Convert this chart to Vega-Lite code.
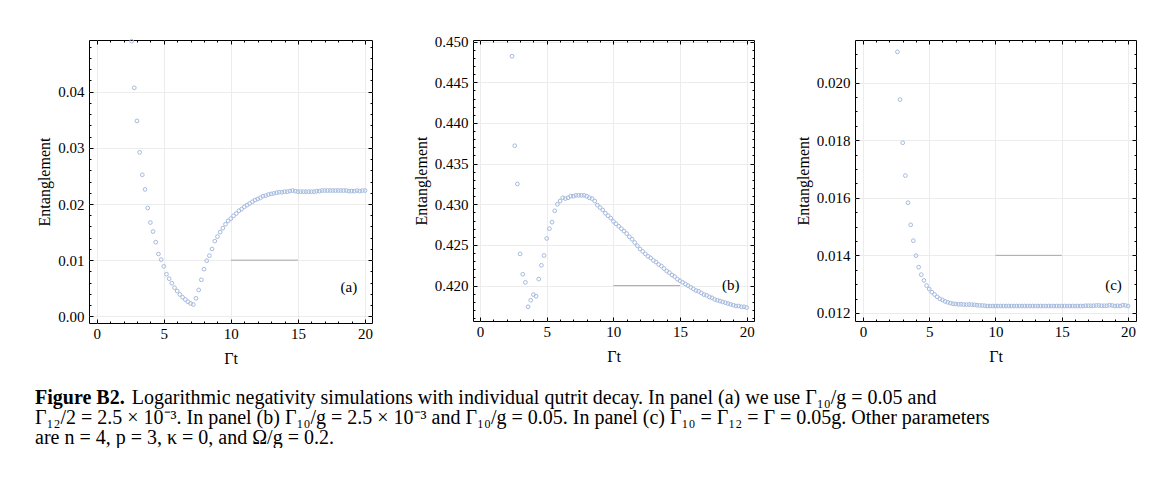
{
  "$schema": "https://vega.github.io/schema/vega-lite/v6.json",
  "padding": {"left": 35, "top": 34, "right": 0, "bottom": 0},
  "background": "white",
  "config": {
    "font": "Liberation Serif",
    "view": {"stroke": "black", "strokeWidth": 1},
    "axis": {
      "labelFont": "Liberation Serif", "labelFontSize": 15, "labelColor": "black",
      "titleFont": "Liberation Serif", "titleFontSize": 16, "titleFontWeight": "normal", "titleColor": "black",
      "tickColor": "black", "tickWidth": 1, "domain": false, "gridColor": "#ececec", "gridWidth": 1,
      "labelFlush": false, "labelOverlap": false
    }
  },
  "datasets": {
    "a": [
      {"t":2.6,"e":0.0490},{"t":2.8,"e":0.0407},{"t":3.0,"e":0.0348},{"t":3.2,"e":0.0292},{"t":3.4,"e":0.0252},{"t":3.6,"e":0.0226},{"t":3.8,"e":0.0193},{"t":4.0,"e":0.0167},{"t":4.2,"e":0.0151},{"t":4.4,"e":0.0132},
      {"t":4.6,"e":0.0111},{"t":4.8,"e":0.0101},{"t":5.0,"e":0.0089},{"t":5.2,"e":0.0075},{"t":5.4,"e":0.0067},{"t":5.6,"e":0.0059},{"t":5.8,"e":0.0051},{"t":6.0,"e":0.0045},{"t":6.2,"e":0.0039},{"t":6.4,"e":0.0034},
      {"t":6.6,"e":0.0030},{"t":6.8,"e":0.0026},{"t":7.0,"e":0.0023},{"t":7.2,"e":0.0021},{"t":7.4,"e":0.0032},{"t":7.6,"e":0.0047},{"t":7.8,"e":0.0065},{"t":8.0,"e":0.0084},{"t":8.2,"e":0.0099},{"t":8.4,"e":0.0108},
      {"t":8.6,"e":0.0120},{"t":8.8,"e":0.0134},{"t":9.0,"e":0.0142},{"t":9.2,"e":0.0150},{"t":9.4,"e":0.0157},{"t":9.6,"e":0.0164},{"t":9.8,"e":0.0170},{"t":10.0,"e":0.0174},{"t":10.2,"e":0.0179},{"t":10.4,"e":0.0183},
      {"t":10.6,"e":0.0188},{"t":10.8,"e":0.0191},{"t":11.0,"e":0.0195},{"t":11.2,"e":0.0198},{"t":11.4,"e":0.0201},{"t":11.6,"e":0.0204},{"t":11.8,"e":0.0207},{"t":12.0,"e":0.0209},{"t":12.2,"e":0.0211},{"t":12.4,"e":0.0214},
      {"t":12.6,"e":0.0215},{"t":12.8,"e":0.0217},{"t":13.0,"e":0.0218},{"t":13.2,"e":0.0219},{"t":13.4,"e":0.0220},{"t":13.6,"e":0.0221},{"t":13.8,"e":0.0221},{"t":14.0,"e":0.0222},{"t":14.2,"e":0.0222},{"t":14.4,"e":0.0223},
      {"t":14.6,"e":0.0224},{"t":14.8,"e":0.0223},{"t":15.0,"e":0.0222},{"t":15.2,"e":0.0222},{"t":15.4,"e":0.0222},{"t":15.6,"e":0.0222},{"t":15.8,"e":0.0222},{"t":16.0,"e":0.0222},{"t":16.2,"e":0.0222},{"t":16.4,"e":0.0223},
      {"t":16.6,"e":0.0223},{"t":16.8,"e":0.0224},{"t":17.0,"e":0.0224},{"t":17.2,"e":0.0224},{"t":17.4,"e":0.0224},{"t":17.6,"e":0.0224},{"t":17.8,"e":0.0224},{"t":18.0,"e":0.0224},{"t":18.2,"e":0.0224},{"t":18.4,"e":0.0224},
      {"t":18.6,"e":0.0224},{"t":18.8,"e":0.0223},{"t":19.0,"e":0.0223},{"t":19.2,"e":0.0223},{"t":19.4,"e":0.0224},{"t":19.6,"e":0.0223},{"t":19.8,"e":0.0224},{"t":20.0,"e":0.0224}
    ],
    "b": [
      {"t":2.4,"e":0.4482},{"t":2.6,"e":0.4372},{"t":2.8,"e":0.4325},{"t":3.0,"e":0.4239},{"t":3.2,"e":0.4214},{"t":3.4,"e":0.4204},{"t":3.6,"e":0.4174},{"t":3.8,"e":0.4182},{"t":4.0,"e":0.4189},{"t":4.2,"e":0.4187},
      {"t":4.4,"e":0.4208},{"t":4.6,"e":0.4225},{"t":4.8,"e":0.4237},{"t":5.0,"e":0.4258},{"t":5.2,"e":0.4270},{"t":5.4,"e":0.4278},{"t":5.6,"e":0.4292},{"t":5.8,"e":0.4300},{"t":6.0,"e":0.4304},{"t":6.2,"e":0.4308},
      {"t":6.4,"e":0.4307},{"t":6.6,"e":0.4308},{"t":6.8,"e":0.4310},{"t":7.0,"e":0.4310},{"t":7.2,"e":0.4311},{"t":7.4,"e":0.4311},{"t":7.6,"e":0.4311},{"t":7.8,"e":0.4311},{"t":8.0,"e":0.4310},{"t":8.2,"e":0.4308},
      {"t":8.4,"e":0.4307},{"t":8.6,"e":0.4304},{"t":8.8,"e":0.4299},{"t":9.0,"e":0.4296},{"t":9.2,"e":0.4293},{"t":9.4,"e":0.4289},{"t":9.6,"e":0.4286},{"t":9.8,"e":0.4283},{"t":10.0,"e":0.4279},{"t":10.2,"e":0.4276},
      {"t":10.4,"e":0.4273},{"t":10.6,"e":0.4270},{"t":10.8,"e":0.4267},{"t":11.0,"e":0.4264},{"t":11.2,"e":0.4260},{"t":11.4,"e":0.4257},{"t":11.6,"e":0.4253},{"t":11.8,"e":0.4249},{"t":12.0,"e":0.4245},{"t":12.2,"e":0.4242},
      {"t":12.4,"e":0.4239},{"t":12.6,"e":0.4236},{"t":12.8,"e":0.4234},{"t":13.0,"e":0.4231},{"t":13.2,"e":0.4229},{"t":13.4,"e":0.4226},{"t":13.6,"e":0.4224},{"t":13.8,"e":0.4221},{"t":14.0,"e":0.4218},{"t":14.2,"e":0.4216},
      {"t":14.4,"e":0.4213},{"t":14.6,"e":0.4211},{"t":14.8,"e":0.4208},{"t":15.0,"e":0.4206},{"t":15.2,"e":0.4204},{"t":15.4,"e":0.4202},{"t":15.6,"e":0.4200},{"t":15.8,"e":0.4198},{"t":16.0,"e":0.4196},{"t":16.2,"e":0.4194},
      {"t":16.4,"e":0.4193},{"t":16.6,"e":0.4191},{"t":16.8,"e":0.4189},{"t":17.0,"e":0.4188},{"t":17.2,"e":0.4186},{"t":17.4,"e":0.4185},{"t":17.6,"e":0.4183},{"t":17.8,"e":0.4182},{"t":18.0,"e":0.4181},{"t":18.2,"e":0.4180},
      {"t":18.4,"e":0.4179},{"t":18.6,"e":0.4178},{"t":18.8,"e":0.4177},{"t":19.0,"e":0.4176},{"t":19.2,"e":0.4175},{"t":19.4,"e":0.4175},{"t":19.6,"e":0.4174},{"t":19.8,"e":0.4174},{"t":20.0,"e":0.4173}
    ],
    "c": [
      {"t":2.6,"e":0.02107},{"t":2.8,"e":0.01941},{"t":3.0,"e":0.01791},{"t":3.2,"e":0.01677},{"t":3.4,"e":0.01583},{"t":3.6,"e":0.01506},{"t":3.8,"e":0.01451},{"t":4.0,"e":0.01399},{"t":4.2,"e":0.01359},{"t":4.4,"e":0.01333},
      {"t":4.6,"e":0.01313},{"t":4.8,"e":0.01295},{"t":5.0,"e":0.01283},{"t":5.2,"e":0.01272},{"t":5.4,"e":0.01264},{"t":5.6,"e":0.01256},{"t":5.8,"e":0.01249},{"t":6.0,"e":0.01245},{"t":6.2,"e":0.01240},{"t":6.4,"e":0.01237},
      {"t":6.6,"e":0.01234},{"t":6.8,"e":0.01232},{"t":7.0,"e":0.01231},{"t":7.2,"e":0.01230},{"t":7.4,"e":0.01230},{"t":7.6,"e":0.01229},{"t":7.8,"e":0.01229},{"t":8.0,"e":0.01229},{"t":8.2,"e":0.01229},{"t":8.4,"e":0.01228},
      {"t":8.6,"e":0.01227},{"t":8.8,"e":0.01226},{"t":9.0,"e":0.01226},{"t":9.2,"e":0.01225},{"t":9.4,"e":0.01224},{"t":9.6,"e":0.01224},{"t":9.8,"e":0.01224},{"t":10.0,"e":0.01224},{"t":10.2,"e":0.01224},{"t":10.4,"e":0.01224},
      {"t":10.6,"e":0.01224},{"t":10.8,"e":0.01224},{"t":11.0,"e":0.01224},{"t":11.2,"e":0.01224},{"t":11.4,"e":0.01224},{"t":11.6,"e":0.01224},{"t":11.8,"e":0.01224},{"t":12.0,"e":0.01224},{"t":12.2,"e":0.01224},{"t":12.4,"e":0.01224},
      {"t":12.6,"e":0.01224},{"t":12.8,"e":0.01224},{"t":13.0,"e":0.01224},{"t":13.2,"e":0.01224},{"t":13.4,"e":0.01224},{"t":13.6,"e":0.01224},{"t":13.8,"e":0.01224},{"t":14.0,"e":0.01224},{"t":14.2,"e":0.01224},{"t":14.4,"e":0.01224},
      {"t":14.6,"e":0.01224},{"t":14.8,"e":0.01224},{"t":15.0,"e":0.01224},{"t":15.2,"e":0.01224},{"t":15.4,"e":0.01224},{"t":15.6,"e":0.01224},{"t":15.8,"e":0.01224},{"t":16.0,"e":0.01224},{"t":16.2,"e":0.01224},{"t":16.4,"e":0.01224},
      {"t":16.6,"e":0.01224},{"t":16.8,"e":0.01225},{"t":17.0,"e":0.01225},{"t":17.2,"e":0.01225},{"t":17.4,"e":0.01225},{"t":17.6,"e":0.01226},{"t":17.8,"e":0.01226},{"t":18.0,"e":0.01225},{"t":18.2,"e":0.01225},{"t":18.4,"e":0.01225},
      {"t":18.6,"e":0.01227},{"t":18.8,"e":0.01226},{"t":19.0,"e":0.01224},{"t":19.2,"e":0.01225},{"t":19.4,"e":0.01224},{"t":19.6,"e":0.01227},{"t":19.8,"e":0.01226},{"t":20.0,"e":0.01224}
    ],
    "caption": [
      {"line": 0, "part": "bold", "text": "Figure B2."},
      {"line": 0, "part": "first", "text": "Logarithmic negativity simulations with individual qutrit decay. In panel (a) we use Γ₁₀/g = 0.05 and"},
      {"line": 1, "part": "rest", "text": "Γ₁₂/2 = 2.5 × 10⁻³. In panel (b) Γ₁₀/g = 2.5 × 10⁻³ and Γ₁₀/g = 0.05. In panel (c) Γ₁₀ = Γ₁₂ = Γ = 0.05g. Other parameters"},
      {"line": 2, "part": "rest", "text": "are n = 4, p = 3, κ = 0, and Ω/g = 0.2."}
    ]
  },
  "bounds": "full",
  "spacing": 21,
  "vconcat": [
    {
      "bounds": "flush",
      "spacing": 101,
      "hconcat": [
        {
          "width": 283, "height": 283,
          "resolve": {"axis": {"x": "independent", "y": "independent"}},
          "layer": [
            {
              "data": {"name": "a"},
              "mark": {"type": "point", "shape": "circle", "filled": false, "size": 14, "strokeWidth": 1, "color": "#a5badf", "opacity": 1},
              "encoding": {
                "x": {"field": "t", "type": "quantitative", "scale": {"domain": [-0.574, 20.52], "nice": false, "zero": false},
                  "axis": {"orient": "bottom", "values": [0,1,2,3,4,5,6,7,8,9,10,11,12,13,14,15,16,17,18,19,20],
                    "labelExpr": "datum.value % 5 === 0 ? datum.label : ''",
                    "tickSize": {"condition": {"test": "datum.value % 5 === 0", "value": -4}, "value": -2},
                    "grid": true, "gridOpacity": {"condition": {"test": "datum.value % 5 === 0", "value": 1}, "value": 0},
                    "labelPadding": 7, "title": "Γt", "titlePadding": 7}},
                "y": {"field": "e", "type": "quantitative", "scale": {"domain": [-0.00119, 0.04921], "nice": false, "zero": false},
                  "axis": {"orient": "left", "format": ".2f",
                    "values": [0,0.002,0.004,0.006,0.008,0.01,0.012,0.014,0.016,0.018,0.02,0.022,0.024,0.026,0.028,0.03,0.032,0.034,0.036,0.038,0.04,0.042,0.044,0.046,0.048],
                    "labelExpr": "abs(datum.value*100 - round(datum.value*100)) < 1e-6 ? datum.label : ''",
                    "tickSize": {"condition": {"test": "abs(datum.value*100 - round(datum.value*100)) < 1e-6", "value": -4}, "value": -2},
                    "grid": true, "gridOpacity": {"condition": {"test": "abs(datum.value*100 - round(datum.value*100)) < 1e-6", "value": 1}, "value": 0},
                    "labelPadding": 9, "title": "Entanglement", "titlePadding": 5}}
              }
            },
            {
              "data": {"values": [{"t": 10, "t2": 15, "e": 0.01}]},
              "mark": {"type": "rule", "color": "#a8a8a8", "strokeWidth": 1},
              "encoding": {
                "x": {"field": "t", "type": "quantitative",
                  "axis": {"orient": "top", "values": [0,1,2,3,4,5,6,7,8,9,10,11,12,13,14,15,16,17,18,19,20], "labels": false, "grid": false, "title": null,
                    "tickSize": {"condition": {"test": "datum.value % 5 === 0", "value": -4}, "value": -2}}},
                "x2": {"field": "t2"},
                "y": {"field": "e", "type": "quantitative",
                  "axis": {"orient": "right", "labels": false, "grid": false, "title": null,
                    "values": [0,0.002,0.004,0.006,0.008,0.01,0.012,0.014,0.016,0.018,0.02,0.022,0.024,0.026,0.028,0.03,0.032,0.034,0.036,0.038,0.04,0.042,0.044,0.046,0.048],
                    "tickSize": {"condition": {"test": "abs(datum.value*100 - round(datum.value*100)) < 1e-6", "value": -4}, "value": -2}}}
              }
            },
            {
              "data": {"values": [{"t": 18.8, "e": 0.0052, "label": "(a)"}]},
              "mark": {"type": "text", "fontSize": 15, "font": "Liberation Serif", "color": "black"},
              "encoding": {
                "x": {"field": "t", "type": "quantitative", "axis": null},
                "y": {"field": "e", "type": "quantitative", "axis": null},
                "text": {"field": "label"}
              }
            }
          ]
        },
        {
          "width": 281, "height": 281,
          "resolve": {"axis": {"x": "independent", "y": "independent"}},
          "layer": [
            {
              "data": {"name": "b"},
              "mark": {"type": "point", "shape": "circle", "filled": false, "size": 14, "strokeWidth": 1, "color": "#a5badf", "opacity": 1},
              "encoding": {
                "x": {"field": "t", "type": "quantitative", "scale": {"domain": [-0.53, 20.55], "nice": false, "zero": false},
                  "axis": {"orient": "bottom", "values": [0,1,2,3,4,5,6,7,8,9,10,11,12,13,14,15,16,17,18,19,20],
                    "labelExpr": "datum.value % 5 === 0 ? datum.label : ''",
                    "tickSize": {"condition": {"test": "datum.value % 5 === 0", "value": -4}, "value": -2},
                    "grid": true, "gridOpacity": {"condition": {"test": "datum.value % 5 === 0", "value": 1}, "value": 0},
                    "labelPadding": 7, "title": "Γt", "titlePadding": 7}},
                "y": {"field": "e", "type": "quantitative", "scale": {"domain": [0.41565, 0.4502], "nice": false, "zero": false},
                  "axis": {"orient": "left", "format": ".3f",
                    "values": [0.416,0.417,0.418,0.419,0.42,0.421,0.422,0.423,0.424,0.425,0.426,0.427,0.428,0.429,0.43,0.431,0.432,0.433,0.434,0.435,0.436,0.437,0.438,0.439,0.44,0.441,0.442,0.443,0.444,0.445,0.446,0.447,0.448,0.449,0.45],
                    "labelExpr": "abs(datum.value*200 - round(datum.value*200)) < 1e-6 ? datum.label : ''",
                    "tickSize": {"condition": {"test": "abs(datum.value*200 - round(datum.value*200)) < 1e-6", "value": -4}, "value": -2},
                    "grid": true, "gridOpacity": {"condition": {"test": "abs(datum.value*200 - round(datum.value*200)) < 1e-6", "value": 1}, "value": 0},
                    "labelPadding": 9, "title": "Entanglement", "titlePadding": 5}}
              }
            },
            {
              "data": {"values": [{"t": 10, "t2": 15, "e": 0.42}]},
              "mark": {"type": "rule", "color": "#a8a8a8", "strokeWidth": 1},
              "encoding": {
                "x": {"field": "t", "type": "quantitative",
                  "axis": {"orient": "top", "values": [0,1,2,3,4,5,6,7,8,9,10,11,12,13,14,15,16,17,18,19,20], "labels": false, "grid": false, "title": null,
                    "tickSize": {"condition": {"test": "datum.value % 5 === 0", "value": -4}, "value": -2}}},
                "x2": {"field": "t2"},
                "y": {"field": "e", "type": "quantitative",
                  "axis": {"orient": "right", "labels": false, "grid": false, "title": null,
                    "values": [0.416,0.417,0.418,0.419,0.42,0.421,0.422,0.423,0.424,0.425,0.426,0.427,0.428,0.429,0.43,0.431,0.432,0.433,0.434,0.435,0.436,0.437,0.438,0.439,0.44,0.441,0.442,0.443,0.444,0.445,0.446,0.447,0.448,0.449,0.45],
                    "tickSize": {"condition": {"test": "abs(datum.value*200 - round(datum.value*200)) < 1e-6", "value": -4}, "value": -2}}}
              }
            },
            {
              "data": {"values": [{"t": 18.8, "e": 0.4201, "label": "(b)"}]},
              "mark": {"type": "text", "fontSize": 15, "font": "Liberation Serif", "color": "black"},
              "encoding": {
                "x": {"field": "t", "type": "quantitative", "axis": null},
                "y": {"field": "e", "type": "quantitative", "axis": null},
                "text": {"field": "label"}
              }
            }
          ]
        },
        {
          "width": 281, "height": 281,
          "resolve": {"axis": {"x": "independent", "y": "independent"}},
          "layer": [
            {
              "data": {"name": "c"},
              "mark": {"type": "point", "shape": "circle", "filled": false, "size": 14, "strokeWidth": 1, "color": "#a5badf", "opacity": 1},
              "encoding": {
                "x": {"field": "t", "type": "quantitative", "scale": {"domain": [-0.6, 20.6], "nice": false, "zero": false},
                  "axis": {"orient": "bottom", "values": [0,1,2,3,4,5,6,7,8,9,10,11,12,13,14,15,16,17,18,19,20],
                    "labelExpr": "datum.value % 5 === 0 ? datum.label : ''",
                    "tickSize": {"condition": {"test": "datum.value % 5 === 0", "value": -4}, "value": -2},
                    "grid": true, "gridOpacity": {"condition": {"test": "datum.value % 5 === 0", "value": 1}, "value": 0},
                    "labelPadding": 7, "title": "Γt", "titlePadding": 7}},
                "y": {"field": "e", "type": "quantitative", "scale": {"domain": [0.01172, 0.02148], "nice": false, "zero": false},
                  "axis": {"orient": "left", "format": ".3f",
                    "values": [0.012,0.0125,0.013,0.0135,0.014,0.0145,0.015,0.0155,0.016,0.0165,0.017,0.0175,0.018,0.0185,0.019,0.0195,0.02,0.0205,0.021],
                    "labelExpr": "abs(datum.value*500 - round(datum.value*500)) < 1e-6 ? datum.label : ''",
                    "tickSize": {"condition": {"test": "abs(datum.value*500 - round(datum.value*500)) < 1e-6", "value": -4}, "value": -2},
                    "grid": true, "gridOpacity": {"condition": {"test": "abs(datum.value*500 - round(datum.value*500)) < 1e-6", "value": 1}, "value": 0},
                    "labelPadding": 9, "title": "Entanglement", "titlePadding": 5}}
              }
            },
            {
              "data": {"values": [{"t": 10, "t2": 15, "e": 0.014}]},
              "mark": {"type": "rule", "color": "#a8a8a8", "strokeWidth": 1},
              "encoding": {
                "x": {"field": "t", "type": "quantitative",
                  "axis": {"orient": "top", "values": [0,1,2,3,4,5,6,7,8,9,10,11,12,13,14,15,16,17,18,19,20], "labels": false, "grid": false, "title": null,
                    "tickSize": {"condition": {"test": "datum.value % 5 === 0", "value": -4}, "value": -2}}},
                "x2": {"field": "t2"},
                "y": {"field": "e", "type": "quantitative",
                  "axis": {"orient": "right", "labels": false, "grid": false, "title": null,
                    "values": [0.012,0.0125,0.013,0.0135,0.014,0.0145,0.015,0.0155,0.016,0.0165,0.017,0.0175,0.018,0.0185,0.019,0.0195,0.02,0.0205,0.021],
                    "tickSize": {"condition": {"test": "abs(datum.value*500 - round(datum.value*500)) < 1e-6", "value": -4}, "value": -2}}}
              }
            },
            {
              "data": {"values": [{"t": 18.9, "e": 0.01296, "label": "(c)"}]},
              "mark": {"type": "text", "fontSize": 15, "font": "Liberation Serif", "color": "black"},
              "encoding": {
                "x": {"field": "t", "type": "quantitative", "axis": null},
                "y": {"field": "e", "type": "quantitative", "axis": null},
                "text": {"field": "label"}
              }
            }
          ]
        }
      ]
    },
    {
      "width": 1047, "height": 40,
      "view": {"stroke": null},
      "data": {"name": "caption"},
      "encoding": {
        "x": {"datum": 0, "type": "quantitative", "scale": {"domain": [0, 1]}, "axis": null},
        "y": {"field": "line", "type": "ordinal", "scale": {"type": "point", "padding": 0}, "axis": null},
        "text": {"field": "text"}
      },
      "layer": [
        {"transform": [{"filter": "datum.part === 'bold'"}],
         "mark": {"type": "text", "align": "left", "baseline": "alphabetic", "font": "Liberation Serif", "fontSize": 20, "fontWeight": "bold", "color": "black", "dx": -54}},
        {"transform": [{"filter": "datum.part === 'first'"}],
         "mark": {"type": "text", "align": "left", "baseline": "alphabetic", "font": "Liberation Serif", "fontSize": 20, "color": "black", "dx": 42.7}},
        {"transform": [{"filter": "datum.part === 'rest'"}],
         "mark": {"type": "text", "align": "left", "baseline": "alphabetic", "font": "Liberation Serif", "fontSize": 20, "color": "black", "dx": -54}}
      ]
    }
  ]
}
